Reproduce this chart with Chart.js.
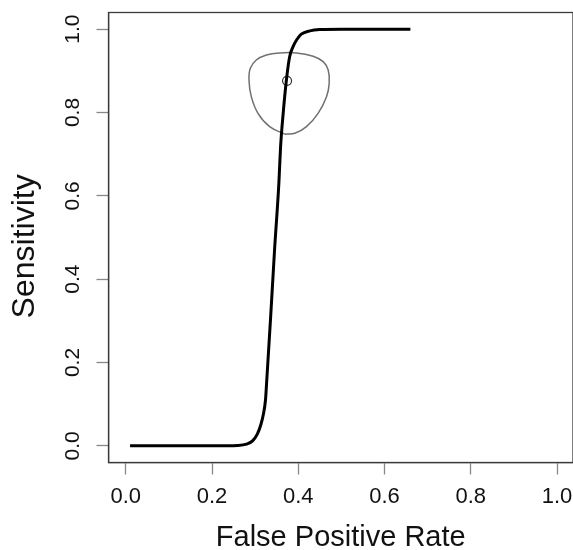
<!DOCTYPE html>
<html>
<head>
<meta charset="utf-8">
<script src="https://cdn.jsdelivr.net/npm/chart.js@4.4.1/dist/chart.umd.min.js"></script>
<style>
html,body{margin:0;padding:0;background:#fff;}
canvas{display:block;}
</style>
</head>
<body>
<canvas id="c" width="573" height="550"></canvas>
<script>
// ROC curve (false positive rate vs sensitivity)
const rocFpr  = [0.01, 0.20, 0.26, 0.28, 0.294, 0.305, 0.313, 0.319, 0.324, 0.327, 0.336, 0.345, 0.355, 0.359, 0.365, 0.3725, 0.380, 0.388, 0.396, 0.407, 0.427, 0.45, 0.50, 0.66];
const rocSens = [0.00, 0.00, 0.001, 0.004, 0.012, 0.028, 0.050, 0.075, 0.110, 0.158, 0.310, 0.470, 0.630, 0.718, 0.798, 0.878, 0.934, 0.958, 0.974, 0.988, 0.996, 0.999, 1.00, 1.00];
// confidence region around the summary point
const regionFpr  = [0.3686, 0.3337, 0.3066, 0.2911, 0.2857, 0.2888, 0.3027, 0.3260, 0.3570, 0.3957, 0.4345, 0.4577, 0.4694, 0.4717, 0.4655, 0.4460, 0.4190, 0.3920, 0.3686];
const regionSens = [0.748, 0.766, 0.798, 0.838, 0.878, 0.906, 0.926, 0.938, 0.943, 0.943, 0.935, 0.922, 0.902, 0.870, 0.838, 0.798, 0.766, 0.750, 0.748];
// summary point
const pointFpr = [0.374];
const pointSens = [0.876];
// tick labels
const xTicks = [0.0, 0.2, 0.4, 0.6, 0.8, 1.0];
const yTicks = [0.0, 0.2, 0.4, 0.6, 0.8, 1.0];
const xTitle = 'False Positive Rate';
const yTitle = 'Sensitivity  ';

const zip = (xs, ys) => xs.map((x, i) => ({x: x, y: ys[i]}));
const FONT = '"Liberation Sans", Arial, Helvetica, sans-serif';

const boxPlugin = {
  id: 'box',
  afterDraw(chart) {
    const a = chart.chartArea, ctx = chart.ctx;
    ctx.save();
    ctx.strokeStyle = '#3a3a3a';
    ctx.lineWidth = 1.3;
    ctx.strokeRect(a.left, a.top, a.right - a.left, a.bottom - a.top);
    ctx.restore();
  }
};

new Chart(document.getElementById('c'), {
  type: 'scatter',
  data: {
    datasets: [
      {
        label: 'ROC',
        data: zip(rocFpr, rocSens),
        showLine: true,
        borderColor: '#000',
        borderWidth: 3,
        pointRadius: 0,
        cubicInterpolationMode: 'monotone',
        fill: false
      },
      {
        label: 'Region',
        data: zip(regionFpr, regionSens),
        showLine: true,
        borderColor: '#707070',
        borderWidth: 1.5,
        pointRadius: 0,
        tension: 0.4,
        fill: false
      },
      {
        label: 'Point',
        data: zip(pointFpr, pointSens),
        showLine: false,
        pointRadius: 4.5,
        pointStyle: 'circle',
        borderColor: '#333',
        borderWidth: 1.2,
        backgroundColor: 'rgba(0,0,0,0)'
      }
    ]
  },
  options: {
    responsive: false,
    animation: false,
    devicePixelRatio: 1,
    layout: { autoPadding: false, padding: { top: 12.5, left: 0, right: 0, bottom: 0 } },
    plugins: { legend: { display: false }, tooltip: { enabled: false } },
    scales: {
      x: {
        type: 'linear',
        min: -0.04,
        max: 1.037,
        afterBuildTicks: (s) => { s.ticks = xTicks.map(v => ({value: v})); },
        afterFit: (s) => { s.height = 87.5; s.paddingLeft = 0; s.paddingRight = 0; },
        grid: { drawOnChartArea: false, drawTicks: true, tickLength: 12, tickColor: '#888', tickWidth: 1.3 },
        border: { display: true, color: '#3a3a3a', width: 1.3 },
        ticks: {
          padding: 9,
          color: '#111',
          font: { family: FONT, size: 22 },
          maxRotation: 0, minRotation: 0,
          callback: (v) => Number(v).toFixed(1)
        },
        title: {
          display: true,
          text: xTitle,
          color: '#111',
          font: { family: FONT, size: 29, lineHeight: 0.85 },
          padding: { top: 0, bottom: 0 }
        }
      },
      y: {
        type: 'linear',
        min: -0.04,
        max: 1.04,
        afterBuildTicks: (s) => { s.ticks = yTicks.map(v => ({value: v})); },
        afterFit: (s) => { s.width = 108.5; s.paddingTop = 0; s.paddingBottom = 0; },
        grid: { drawOnChartArea: false, drawTicks: true, tickLength: 12, tickColor: '#888', tickWidth: 1.3 },
        border: { display: true, color: '#3a3a3a', width: 1.3 },
        ticks: {
          padding: 8.5,
          color: '#111',
          crossAlign: 'center',
          minRotation: 90, maxRotation: 90,
          font: { family: FONT, size: 21 },
          callback: (v) => Number(v).toFixed(1)
        },
        title: {
          display: true,
          text: yTitle,
          color: '#111',
          font: { family: FONT, size: 32, lineHeight: 1 },
          padding: { top: 9, bottom: 0 }
        }
      }
    }
  },
  plugins: [boxPlugin]
});
</script>
</body>
</html>
